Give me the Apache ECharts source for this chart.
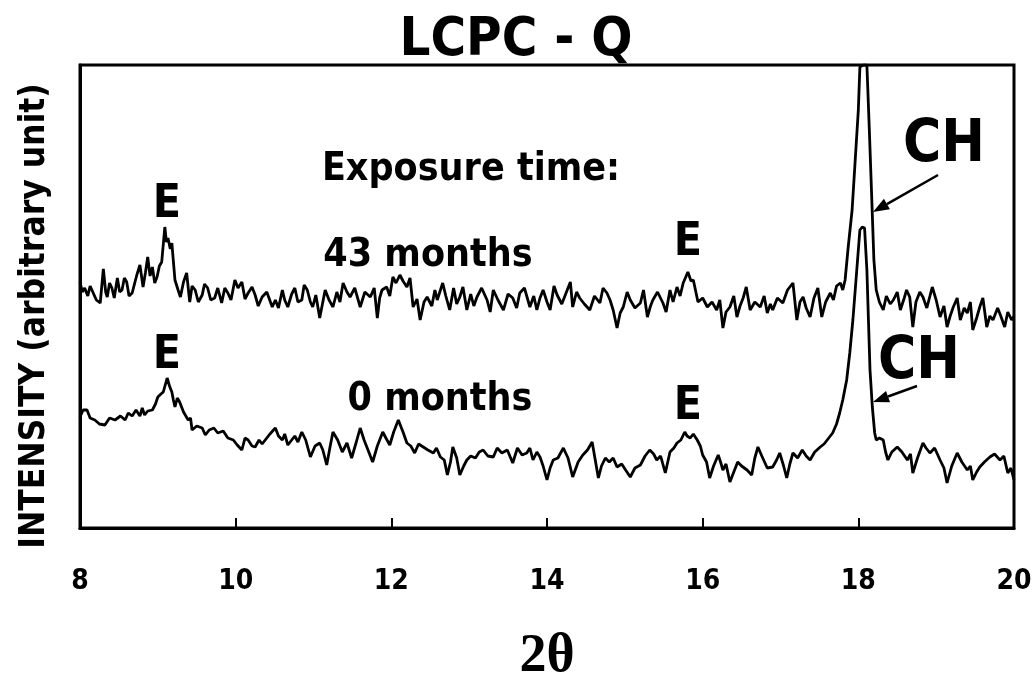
<!DOCTYPE html>
<html><head><meta charset="utf-8">
<script src="https://cdn.jsdelivr.net/npm/echarts@6/dist/echarts.min.js"></script>
<style>html,body{margin:0;padding:0;background:#fff}#c{width:1032px;height:683px}</style>
</head><body><div id="c"></div>
<script>
// 2-theta tick labels
const xTicks = [8, 10, 12, 14, 16, 18, 20];
// 43 months trace: [2theta, intensity (arbitrary)]
const trace43 = [
[8.00,246],[8.03,236],[8.06,240],[8.10,232],[8.13,242],[8.17,235],[8.21,228],[8.26,225],[8.30,259],[8.33,236],
[8.35,231],[8.38,245],[8.41,240],[8.44,230],[8.48,250],[8.51,236],[8.54,238],[8.57,250],[8.60,246],[8.63,232],
[8.67,235],[8.70,244],[8.73,253],[8.77,263],[8.81,241],[8.84,255],[8.87,271],[8.90,252],[8.93,261],[8.96,245],
[8.99,251],[9.02,262],[9.05,266],[9.09,301],[9.11,286],[9.13,290],[9.16,279],[9.18,285],[9.22,248],[9.26,238],
[9.29,231],[9.33,246],[9.37,255],[9.41,226],[9.44,242],[9.48,238],[9.52,226],[9.57,233],[9.60,244],[9.64,240],
[9.68,228],[9.73,230],[9.77,240],[9.82,225],[9.86,240],[9.90,235],[9.94,228],[9.99,248],[10.03,240],[10.08,246],
[10.12,229],[10.16,235],[10.21,241],[10.25,233],[10.29,222],[10.34,231],[10.40,236],[10.47,221],[10.51,228],[10.55,220],
[10.60,238],[10.63,228],[10.67,221],[10.72,234],[10.76,240],[10.80,226],[10.85,228],[10.88,243],[10.92,238],[10.96,226],
[10.99,221],[11.03,233],[11.08,210],[11.12,226],[11.15,238],[11.20,228],[11.25,221],[11.30,236],[11.34,226],[11.38,245],
[11.43,236],[11.47,231],[11.53,240],[11.60,221],[11.66,236],[11.73,231],[11.78,240],[11.82,210],[11.85,230],[11.88,238],
[11.94,241],[11.98,232],[12.02,251],[12.06,245],[12.11,253],[12.15,247],[12.20,241],[12.24,250],[12.28,221],[12.33,229],
[12.37,208],[12.42,226],[12.46,231],[12.52,222],[12.56,238],[12.59,228],[12.66,245],[12.70,232],[12.75,218],[12.80,240],
[12.84,224],[12.88,231],[12.92,241],[12.97,218],[13.02,234],[13.06,222],[13.10,231],[13.16,240],[13.23,228],[13.27,216],
[13.31,238],[13.37,228],[13.44,218],[13.50,234],[13.56,230],[13.61,220],[13.65,235],[13.71,240],[13.78,221],[13.83,232],
[13.87,218],[13.91,230],[13.95,238],[14.00,226],[14.04,218],[14.09,242],[14.13,233],[14.19,224],[14.26,238],[14.30,246],
[14.33,221],[14.38,236],[14.42,230],[14.48,224],[14.55,218],[14.61,232],[14.68,225],[14.72,240],[14.77,235],[14.81,228],
[14.85,218],[14.90,200],[14.94,215],[14.98,221],[15.03,236],[15.07,228],[15.13,220],[15.20,225],[15.24,238],[15.29,211],
[15.33,222],[15.36,228],[15.42,236],[15.49,225],[15.53,216],[15.58,238],[15.62,226],[15.67,241],[15.71,232],[15.75,245],
[15.81,256],[15.85,247],[15.88,248],[15.94,226],[16.00,230],[16.06,221],[16.12,226],[16.18,218],[16.22,228],[16.26,200],
[16.30,216],[16.35,221],[16.40,232],[16.44,211],[16.48,222],[16.52,230],[16.56,241],[16.61,218],[16.67,226],[16.74,221],
[16.79,232],[16.83,215],[16.87,224],[16.90,218],[16.96,230],[17.03,225],[17.09,238],[17.16,245],[17.21,208],[17.25,226],
[17.29,231],[17.33,220],[17.38,211],[17.43,230],[17.48,240],[17.53,211],[17.58,226],[17.64,235],[17.68,228],[17.72,242],
[17.77,245],[17.80,238],[17.83,248],[17.87,281],[17.92,318],[17.96,368],[18.00,418],[18.02,461],[18.06,463],[18.11,463],
[18.14,401],[18.17,335],[18.20,268],[18.23,238],[18.27,226],[18.32,218],[18.36,232],[18.41,224],[18.45,228],[18.50,236],
[18.54,218],[18.59,230],[18.62,238],[18.66,231],[18.70,201],[18.74,226],[18.79,236],[18.83,231],[18.88,220],[18.95,241],
[19.00,228],[19.05,211],[19.10,222],[19.14,201],[19.18,212],[19.22,221],[19.27,230],[19.31,208],[19.36,220],[19.40,215],
[19.44,226],[19.47,198],[19.52,210],[19.56,221],[19.60,230],[19.65,201],[19.69,212],[19.73,208],[19.79,220],[19.83,212],
[19.88,201],[19.92,216],[19.97,208],[20.00,212]
];
// 0 months trace: [2theta, intensity (arbitrary)]
const trace0 = [
[8.00,111],[8.04,118],[8.09,118],[8.13,110],[8.19,108],[8.25,104],[8.32,103],[8.38,110],[8.45,108],[8.52,112],
[8.58,108],[8.62,115],[8.67,112],[8.72,118],[8.77,112],[8.80,120],[8.83,113],[8.87,117],[8.93,118],[8.97,124],
[9.00,131],[9.04,134],[9.07,136],[9.12,150],[9.15,142],[9.18,136],[9.20,128],[9.22,121],[9.25,130],[9.28,126],
[9.33,116],[9.39,108],[9.42,110],[9.44,98],[9.50,102],[9.57,100],[9.61,93],[9.66,98],[9.72,100],[9.77,95],
[9.84,97],[9.90,90],[9.97,88],[10.02,83],[10.08,78],[10.12,90],[10.16,88],[10.21,82],[10.25,81],[10.30,88],
[10.34,84],[10.38,88],[10.44,94],[10.51,100],[10.55,92],[10.60,88],[10.63,94],[10.67,83],[10.72,88],[10.76,92],
[10.80,86],[10.85,96],[10.90,88],[10.96,71],[11.02,82],[11.08,85],[11.12,78],[11.17,63],[11.21,80],[11.25,96],
[11.31,88],[11.37,76],[11.43,85],[11.49,70],[11.55,86],[11.60,100],[11.65,88],[11.70,78],[11.76,66],[11.82,82],
[11.89,96],[11.93,90],[11.98,83],[12.03,96],[12.09,108],[12.15,96],[12.20,85],[12.25,82],[12.30,75],[12.35,84],
[12.41,81],[12.47,78],[12.54,75],[12.58,80],[12.63,71],[12.68,68],[12.72,53],[12.76,66],[12.79,81],[12.84,70],
[12.88,53],[12.93,62],[12.97,68],[13.02,72],[13.08,70],[13.13,76],[13.18,78],[13.24,72],[13.31,71],[13.36,80],
[13.42,75],[13.49,78],[13.56,65],[13.62,80],[13.68,73],[13.74,75],[13.78,80],[13.82,68],[13.87,76],[13.91,71],
[13.95,62],[14.00,48],[14.04,60],[14.08,68],[14.14,70],[14.21,80],[14.27,70],[14.33,51],[14.40,66],[14.46,73],
[14.52,78],[14.58,86],[14.62,68],[14.66,50],[14.70,62],[14.75,70],[14.80,66],[14.85,70],[14.90,61],[14.96,64],
[15.01,58],[15.07,51],[15.13,60],[15.20,63],[15.26,72],[15.32,78],[15.37,74],[15.41,68],[15.46,72],[15.52,55],
[15.58,76],[15.63,80],[15.67,85],[15.72,88],[15.77,96],[15.80,92],[15.84,90],[15.88,94],[15.93,88],[15.97,82],
[16.00,73],[16.05,66],[16.09,50],[16.14,62],[16.20,73],[16.23,66],[16.26,58],[16.30,64],[16.35,46],[16.40,56],
[16.45,66],[16.50,62],[16.57,58],[16.63,53],[16.67,70],[16.71,81],[16.76,72],[16.83,60],[16.90,61],[16.95,68],
[16.99,75],[17.04,62],[17.08,50],[17.12,64],[17.16,75],[17.22,70],[17.28,78],[17.33,72],[17.38,68],[17.44,76],
[17.51,81],[17.56,84],[17.60,88],[17.67,95],[17.72,104],[17.76,115],[17.80,128],[17.85,148],[17.89,175],[17.93,208],
[17.98,258],[18.02,298],[18.05,301],[18.08,300],[18.11,258],[18.13,208],[18.15,158],[18.18,121],[18.21,95],[18.23,88],
[18.27,90],[18.32,88],[18.35,76],[18.38,68],[18.43,76],[18.50,81],[18.56,76],[18.63,68],[18.67,74],[18.70,55],
[18.76,70],[18.83,85],[18.87,80],[18.92,75],[18.98,80],[19.05,68],[19.10,60],[19.14,45],[19.20,62],[19.27,75],
[19.33,66],[19.40,58],[19.44,62],[19.47,48],[19.52,56],[19.56,61],[19.62,66],[19.69,71],[19.75,74],[19.82,68],
[19.87,72],[19.92,55],[19.96,60],[20.00,48]
];

const NARROW = "'Liberation Sans Narrow','Arial Narrow','DejaVu Sans Condensed',sans-serif";
const chart = echarts.init(document.getElementById('c'), null, {renderer:'canvas'});
function txt(s, x, y, size, rot){
  return {type:'text', x:x, y:y, rotation:rot||0, style:{text:s, x:0, y:0, fill:'#000', font:'bold '+size+'px '+NARROW, textAlign:'center', textVerticalAlign:'middle'}, z:10};
}
function arrow(x1,y1,x2,y2){
  const ang = Math.atan2(y2-y1, x2-x1), L=16, W=6;
  const bx = x2 - L*Math.cos(ang), by = y2 - L*Math.sin(ang);
  const px = -Math.sin(ang)*W, py = Math.cos(ang)*W;
  return [
    {type:'line', shape:{x1:x1,y1:y1,x2:bx,y2:by}, style:{stroke:'#000', lineWidth:2.5}, z:10},
    {type:'polygon', shape:{points:[[x2,y2],[bx+px,by+py],[bx-px,by-py]]}, style:{fill:'#000'}, z:10}
  ];
}
chart.setOption({
  animation:false,
  backgroundColor:'#fff',
  title:{text:'LCPC - Q', left:'center', top:9, textStyle:{fontFamily:NARROW, fontWeight:'bold', fontSize:54, color:'#000'}},
  grid:{left:80, right:18, top:65, bottom:155, containLabel:false, outerBoundsMode:'none',
    show:true, borderColor:'#000', borderWidth:3, backgroundColor:'transparent'},
  xAxis:{type:'value', min:8, max:20, interval:2,
    name:'2θ', nameLocation:'middle', nameGap:102,
    nameTextStyle:{fontFamily:"'Liberation Serif','DejaVu Serif',serif", fontWeight:'bold', fontSize:54, color:'#000'},
    axisLine:{show:true, lineStyle:{color:'#000', width:3}},
    axisTick:{show:true, inside:true, length:10, lineStyle:{color:'#000', width:2}},
    axisLabel:{margin:40, fontFamily:NARROW, fontWeight:'bold', fontSize:28, color:'#000',
      formatter:function(v){ return xTicks.indexOf(v)>=0 ? String(v) : ''; }},
    splitLine:{show:false}},
  yAxis:{type:'value', min:0, max:463,
    axisLine:{show:true, lineStyle:{color:'#000', width:3}}, axisTick:{show:false}, axisLabel:{show:false}, splitLine:{show:false}},
  series:[
    {type:'line', data:trace43, showSymbol:false, lineStyle:{color:'#000', width:2.8}, clip:true},
    {type:'line', data:trace0, showSymbol:false, lineStyle:{color:'#000', width:2.8}, clip:true}
  ],
  graphic:[
    txt('INTENSITY (arbitrary unit)', 35, 316, 35, Math.PI/2),
    txt('Exposure time:', 471, 170, 39),
    txt('43 months', 428, 256, 39),
    txt('0 months', 440, 400, 39),
    txt('E', 167, 205, 46),
    txt('E', 688, 243, 46),
    txt('E', 167, 356, 46),
    txt('E', 688, 407, 46),
    txt('CH', 944, 146, 58),
    txt('CH', 919, 363, 58)
  ].concat(arrow(938,175,873,212)).concat(arrow(917,386,873,402))
});
</script></body></html>
